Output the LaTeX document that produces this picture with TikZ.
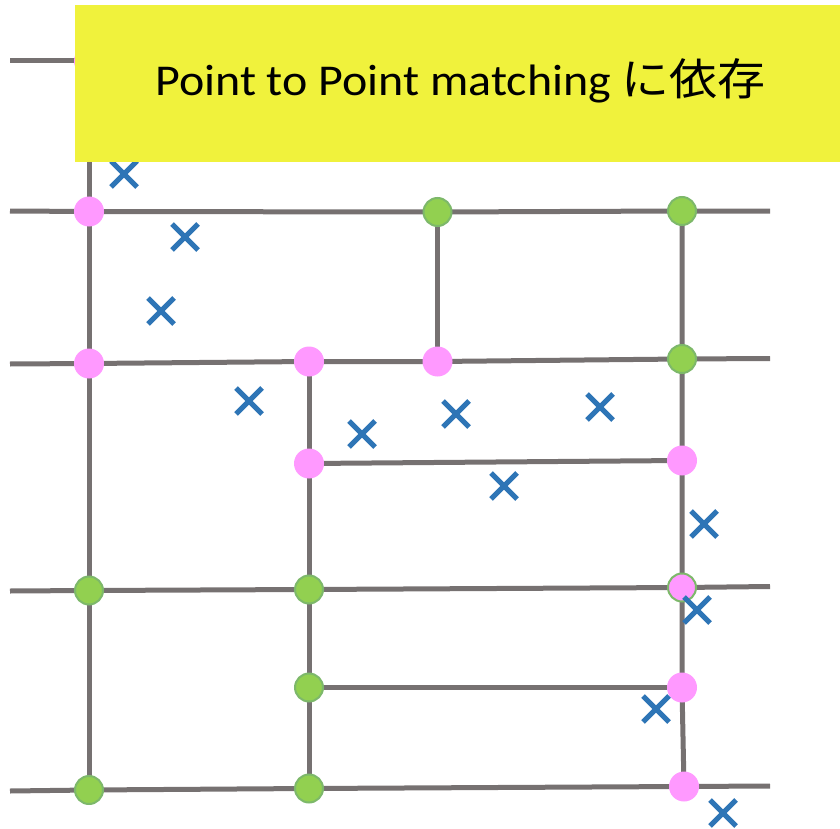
\documentclass[tikz,border=0pt]{standalone}
\usepackage{fontspec}
\setmainfont{Carlito}
\newfontfamily\jpfont{Noto Sans CJK JP}
\usetikzlibrary{shapes.misc,backgrounds}
\definecolor{linegray}{HTML}{767171}
\definecolor{pinkdot}{HTML}{FF99FF}
\definecolor{greendot}{HTML}{92D050}
\definecolor{greenedge}{HTML}{7DB86A}
\definecolor{xblue}{HTML}{2E75B6}
\definecolor{boxyellow}{HTML}{F0F23C}
\tikzset{
  gridline/.style={draw=linegray,line width=5pt},
  pinkpt/.style={circle,fill=pinkdot,minimum size=30pt,inner sep=0pt},
  greenpt/.style={circle,fill=greendot,draw=greenedge,line width=2pt,minimum size=28pt,inner sep=0pt},
  mixpt/.style={circle,fill=pinkdot,draw=greenedge,line width=2pt,minimum size=28pt,inner sep=0pt},
  xmark/.style={cross out,draw=xblue,line width=5pt,minimum size=21pt,inner sep=0pt},
}
\begin{document}
\begin{tikzpicture}[x=1pt,y=-1pt]
\useasboundingbox (0,0) rectangle (840,829);
% dots
\node[pinkpt] (p0) at (89,61) {};
\node[pinkpt] (pa) at (89,211.5) {};
\node[greenpt] (gb) at (437.5,212) {};
\node[greenpt] (gc) at (682,211) {};
\node[pinkpt] (pd) at (89,363.5) {};
\node[pinkpt] (pe) at (309,361.5) {};
\node[pinkpt] (pf) at (437.5,361.5) {};
\node[greenpt] (gg) at (682,359) {};
\node[pinkpt] (ph) at (309,463.5) {};
\node[pinkpt] (pi) at (682,460.5) {};
\node[greenpt] (gj) at (89,590.5) {};
\node[greenpt] (gk) at (309,589.5) {};
\node[mixpt] (pl) at (682,587.5) {};
\node[greenpt] (gm) at (309,687.5) {};
\node[pinkpt] (pn) at (682,687.5) {};
\node[greenpt] (go) at (89,790) {};
\node[greenpt] (gp) at (309,788.5) {};
\node[pinkpt] (pq) at (684,786.5) {};
% free ends
\coordinate (l0s) at (10,61);  \coordinate (l0e) at (300,61);
\coordinate (l1s) at (10,211); \coordinate (l1e) at (770,211);
\coordinate (l2s) at (10,364); \coordinate (l2e) at (770,358.5);
\coordinate (l3s) at (10,591); \coordinate (l3e) at (770,586.5);
\coordinate (l4s) at (10,791); \coordinate (l4e) at (770,786);
\begin{pgfonlayer}{background}
\draw[gridline] (l0s) -- (p0.center) -- (l0e);
\draw[gridline] (l1s) -- (pa.center) -- (gb.center) -- (gc.center) -- (l1e);
\draw[gridline] (l2s) -- (pd.center) -- (pe.center) -- (pf.center) -- (gg.center) -- (l2e);
\draw[gridline] (ph.center) -- (pi.center);
\draw[gridline] (l3s) -- (gj.center) -- (gk.center) -- (pl.center) -- (l3e);
\draw[gridline] (gm.center) -- (pn.center);
\draw[gridline] (l4s) -- (go.center) -- (gp.center) -- (pq.center) -- (l4e);
\draw[gridline] (p0.center) -- (pa.center) -- (pd.center) -- (gj.center) -- (go.center);
\draw[gridline] (pe.center) -- (ph.center) -- (gk.center) -- (gm.center) -- (gp.center);
\draw[gridline] (gb.center) -- (pf.center);
\draw[gridline] (gc.center) -- (gg.center) -- (pi.center) -- (pl.center) -- (pn.center) -- (pq.center);
\end{pgfonlayer}
% crosses
\node[xmark] (x1) at (124,174) {};
\node[xmark] (x2) at (185,237) {};
\node[xmark] (x3) at (161,311) {};
\node[xmark] (x4) at (249,401) {};
\node[xmark] (x5) at (362,434) {};
\node[xmark] (x6) at (456,414) {};
\node[xmark] (x7) at (600,407) {};
\node[xmark] (x8) at (504,486) {};
\node[xmark] (x9) at (704,524) {};
\node[xmark] (x10) at (697,610) {};
\node[xmark] (x11) at (656,709) {};
\node[xmark] (x12) at (723,813) {};
% title box
\node[fill=boxyellow,minimum width=765pt,minimum height=157pt,inner sep=0pt,anchor=north west] (box) at (75,5) {};
\node[anchor=base west,inner sep=0pt,font=\fontsize{44}{50}\selectfont] (title) at (155,96) {\scalebox{1.09}[1]{Point to Point matching {\jpfont に依存}}};
\end{tikzpicture}
\end{document}
